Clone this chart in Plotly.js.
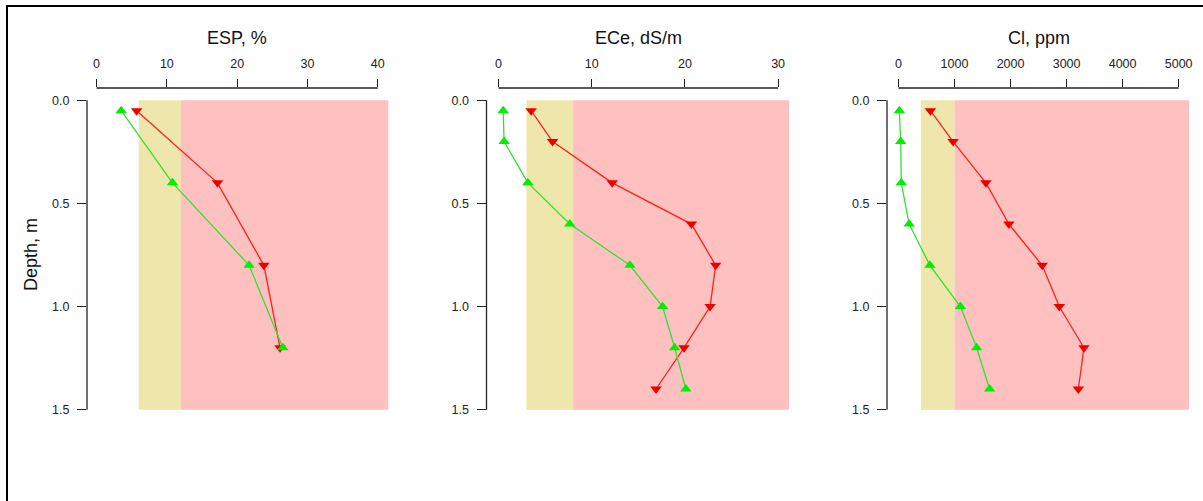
<!DOCTYPE html>
<html>
<head>
<meta charset="utf-8">
<script src="https://cdn.plot.ly/plotly-3.0.1.min.js"></script>
<style>
  html, body { margin: 0; padding: 0; background: #fff; }
  #wrap { position: relative; width: 1203px; height: 501px; overflow: hidden; }
  #chart { position: absolute; left: 0; top: 0; width: 1203px; height: 501px; }
  #frame { position: absolute; left: 6px; top: 5px; width: 1300px; height: 600px;
           border-left: 2px solid #000; border-top: 2px solid #000; pointer-events: none; }
</style>
</head>
<body>
<div id="wrap"><div id="chart"></div><div id="frame"></div></div>
<script>
// ---- data ----
const espDepth = [0.05, 0.4, 0.8, 1.2];
const espRed   = [5.7, 17.2, 23.8, 26.1];
const espGreen = [3.5, 10.8, 21.7, 26.5];

const eceDepth = [0.05, 0.2, 0.4, 0.6, 0.8, 1.0, 1.2, 1.4];
const eceRed   = [3.5, 5.8, 12.2, 20.7, 23.3, 22.7, 19.9, 16.9];
const eceGreen = [0.5, 0.6, 3.15, 7.65, 14.1, 17.6, 18.9, 20.1];

const clDepth = [0.05, 0.2, 0.4, 0.6, 0.8, 1.0, 1.2, 1.4];
const clRed   = [570, 975, 1560, 1970, 2565, 2870, 3310, 3210];
const clGreen = [15, 40, 50, 190, 560, 1105, 1395, 1625];

// classification bands: [slight start, severe start, band end]
const espBands = [6, 12, 41.5];
const eceBands = [3, 8, 31.2];
const clBands  = [400, 1000, 5190];

const espTicks = [0, 10, 20, 30, 40];
const eceTicks = [0, 10, 20, 30];
const clTicks  = [0, 1000, 2000, 3000, 4000, 5000];
const depthTicks = [0.0, 0.5, 1.0, 1.5];
const depthTickText = ['0.0', '0.5', '1.0', '1.5'];

const panelTitles = ['ESP, %', 'ECe, dS/m', 'Cl, ppm'];
const depthTitle = 'Depth, m';

// ---- layout helpers ----
const W = 1203, H = 501;
const px = v => v / W;
const py = v => 1 - v / H;
const yDomain = [py(422), py(88)];
const yRange = [1.56, -0.06];

const panels = [
  {depth: espDepth, red: espRed, green: espGreen, bands: espBands, ticks: espTicks, range: [-1.36, 41.6], dom: [px(87), px(389)]},
  {depth: eceDepth, red: eceRed, green: eceGreen, bands: eceBands, ticks: eceTicks, range: [-1.29, 31.2], dom: [px(486.5), px(789.3)]},
  {depth: clDepth,  red: clRed,  green: clGreen,  bands: clBands,  ticks: clTicks,  range: [-205, 5190], dom: [px(887), px(1189.3)]}
];

const RED_LINE = '#ff2020', RED_MK = '#ee0000';
const GRN_LINE = '#33e033', GRN_MK = '#00ee00';
const AXIS_COL = '#222';
const tickFont = {family: 'Liberation Sans, Arial, sans-serif', size: 12.5, color: '#222'};
const titleFont = {family: 'Liberation Sans, Arial, sans-serif', size: 18, color: '#111'};

const traces = [];
const shapes = [];
const annotations = [];
const layout = {
  width: W, height: H,
  margin: {l: 0, r: 0, t: 0, b: 0, pad: 0},
  paper_bgcolor: '#fff', plot_bgcolor: 'rgba(0,0,0,0)',
  showlegend: false,
  shapes: shapes, annotations: annotations
};

panels.forEach((p, i) => {
  const n = i === 0 ? '' : String(i + 1);
  const xa = 'x' + n, ya = 'y' + n;
  layout['xaxis' + n] = {
    domain: p.dom, range: p.range, anchor: ya, side: 'top',
    tickvals: p.ticks, ticktext: p.ticks.map(String),
    ticks: 'outside', ticklen: 8, tickwidth: 1, tickcolor: AXIS_COL,
    ticklabelstandoff: 6,
    showline: false, showgrid: false, zeroline: false,
    tickfont: tickFont, automargin: false, fixedrange: true
  };
  layout['yaxis' + n] = {
    domain: yDomain, range: yRange, anchor: xa,
    tickvals: depthTicks, ticktext: depthTickText,
    ticks: 'outside', ticklen: 9, tickwidth: 1, tickcolor: AXIS_COL,
    ticklabelstandoff: 5,
    showline: false, showgrid: false, zeroline: false,
    tickfont: tickFont, automargin: false, fixedrange: true
  };
  // bands
  shapes.push({type: 'rect', layer: 'below', xref: xa, yref: ya,
    x0: p.bands[0], x1: p.bands[1], y0: depthTicks[0], y1: depthTicks[depthTicks.length - 1],
    fillcolor: '#eee6aa', line: {width: 0}});
  shapes.push({type: 'rect', layer: 'below', xref: xa, yref: ya,
    x0: p.bands[1], x1: p.bands[2], y0: depthTicks[0], y1: depthTicks[depthTicks.length - 1],
    fillcolor: '#ffc0c0', line: {width: 0}});
  // R-style axis lines spanning first..last tick
  shapes.push({type: 'line', xref: xa, yref: ya + ' domain',
    x0: p.ticks[0], x1: p.ticks[p.ticks.length - 1], y0: 1, y1: 1,
    line: {color: AXIS_COL, width: 1.3}});
  shapes.push({type: 'line', xref: xa + ' domain', yref: ya,
    x0: 0, x1: 0, y0: depthTicks[0], y1: depthTicks[depthTicks.length - 1],
    line: {color: AXIS_COL, width: 1.3}});
  // panel title
  annotations.push({xref: xa, yref: 'paper',
    x: (p.ticks[0] + p.ticks[p.ticks.length - 1]) / 2, y: py(38),
    text: panelTitles[i], showarrow: false, font: titleFont,
    xanchor: 'center', yanchor: 'middle'});
  // series
  traces.push({type: 'scatter', mode: 'lines+markers', x: p.red, y: p.depth, xaxis: xa, yaxis: ya,
    line: {color: RED_LINE, width: 1.3},
    marker: {symbol: 'triangle-down', size: 10, color: RED_MK}, cliponaxis: false, hoverinfo: 'skip'});
  traces.push({type: 'scatter', mode: 'lines+markers', x: p.green, y: p.depth, xaxis: xa, yaxis: ya,
    line: {color: GRN_LINE, width: 1.3},
    marker: {symbol: 'triangle-up', size: 10, color: GRN_MK}, cliponaxis: false, hoverinfo: 'skip'});
});

annotations.push({xref: 'paper', yref: 'paper', x: px(31), y: py(255),
  text: depthTitle, textangle: -90, showarrow: false, font: titleFont,
  xanchor: 'center', yanchor: 'middle'});

Plotly.newPlot('chart', traces, layout, {displayModeBar: false, staticPlot: true});
</script>
</body>
</html>
